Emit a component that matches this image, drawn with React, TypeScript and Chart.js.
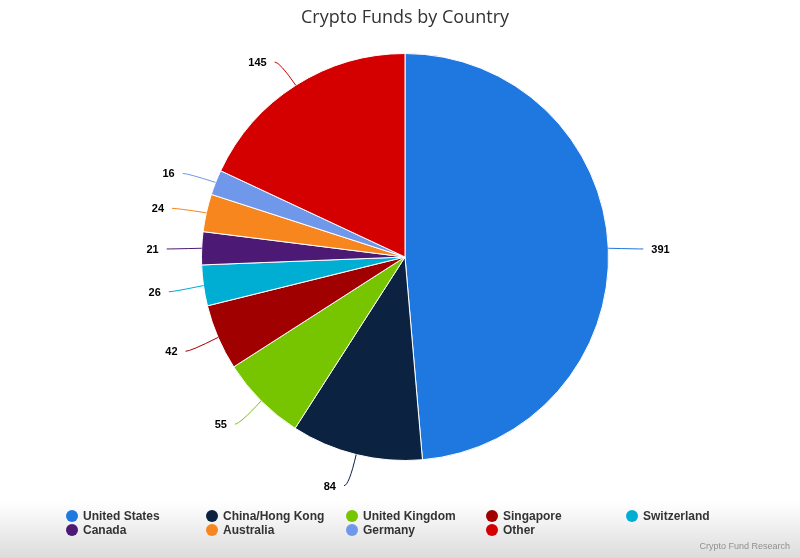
import React, { useEffect, useRef } from "react";
import { Chart, registerables } from "chart.js";

Chart.register(...registerables);

const TITLE = "Crypto Funds by Country";
const CREDIT = "Crypto Fund Research";
const countries = [
  "United States",
  "China/Hong Kong",
  "United Kingdom",
  "Singapore",
  "Switzerland",
  "Canada",
  "Australia",
  "Germany",
  "Other",
];
const funds = [391, 84, 55, 42, 26, 21, 24, 16, 145];
const colors = [
  "#1f78e0",
  "#0b2340",
  "#77c400",
  "#a10000",
  "#00aed3",
  "#4c1a74",
  "#f7861e",
  "#6f97ea",
  "#d40000",
];

const FONT = "'Liberation Sans', 'DejaVu Sans', sans-serif";

const decorPlugin = {
  id: "decor",
  beforeDraw(chart: any) {
    const { ctx, width, height } = chart;
    ctx.save();
    const g = ctx.createLinearGradient(0, 0, 0, height);
    g.addColorStop(0, "#ffffff");
    g.addColorStop(0.9, "#ffffff");
    g.addColorStop(1, "#dcdcdc");
    ctx.fillStyle = g;
    ctx.fillRect(0, 0, width, height);
    ctx.restore();
  },
  afterDraw(chart: any) {
    const { ctx, width } = chart;
    ctx.save();
    // title
    ctx.fillStyle = "#333333";
    ctx.font = `18px 'Open Sans', ${FONT}`;
    ctx.textAlign = "center";
    ctx.textBaseline = "middle";
    ctx.fillText(TITLE, width / 2 + 5, 18);

    // data labels with connectors
    const meta = chart.getDatasetMeta(0);
    ctx.font = `bold 11px ${FONT}`;
    meta.data.forEach((arc: any, i: number) => {
      const { x, y, startAngle, endAngle, outerRadius } = arc.getProps(
        ["x", "y", "startAngle", "endAngle", "outerRadius"],
        true
      );
      const mid = (startAngle + endAngle) / 2;
      const cx = Math.cos(mid);
      const cy = Math.sin(mid);
      const ex = x + cx * outerRadius;
      const ey = y + cy * outerRadius;
      const ax = x + cx * (outerRadius + 30);
      const ay = y + cy * (outerRadius + 30) + 2;
      const right = cx >= 0;
      const tx = ax + (right ? 5 : -5);
      ctx.strokeStyle = colors[i];
      ctx.lineWidth = 1;
      ctx.beginPath();
      ctx.moveTo(tx, ay);
      ctx.quadraticCurveTo(ax, ay, ex, ey);
      ctx.stroke();
      ctx.fillStyle = "#000000";
      ctx.textAlign = right ? "left" : "right";
      ctx.textBaseline = "middle";
      ctx.fillText(String(funds[i]), tx + (right ? 8 : -8), ay + 1);
    });

    // legend
    ctx.font = `bold 12px ${FONT}`;
    ctx.textAlign = "left";
    ctx.textBaseline = "middle";
    countries.forEach((name, i) => {
      const col = i % 5;
      const row = Math.floor(i / 5);
      const mx = 72 + col * 140;
      const my = 516 + row * 14;
      ctx.fillStyle = colors[i];
      ctx.beginPath();
      ctx.arc(mx, my, 6, 0, Math.PI * 2);
      ctx.fill();
      ctx.fillStyle = "#333333";
      ctx.fillText(name, mx + 11, my + 1);
    });

    // credits
    ctx.font = `9px ${FONT}`;
    ctx.fillStyle = "#909090";
    ctx.textAlign = "right";
    ctx.fillText(CREDIT, 790, 547);
    ctx.restore();
  },
};

export default function App() {
  const ref = useRef<HTMLCanvasElement | null>(null);
  useEffect(() => {
    if (!ref.current) return;
    const chart = new Chart(ref.current, {
      type: "pie",
      data: {
        labels: countries,
        datasets: [
          {
            data: funds,
            backgroundColor: colors,
            borderColor: "#ffffff",
            borderWidth: 1,
          },
        ],
      },
      options: {
        animation: false,
        responsive: true,
        maintainAspectRatio: false,
        layout: { padding: { top: 53, bottom: 97, left: 10, right: 0 } },
        plugins: {
          legend: { display: false },
          title: { display: false },
          tooltip: { enabled: false },
        },
      },
      plugins: [decorPlugin],
    });
    return () => chart.destroy();
  }, []);
  return (
    <div style={{ position: "fixed", left: 0, top: 0, width: 800, height: 558 }}>
      <canvas ref={ref} />
    </div>
  );
}
